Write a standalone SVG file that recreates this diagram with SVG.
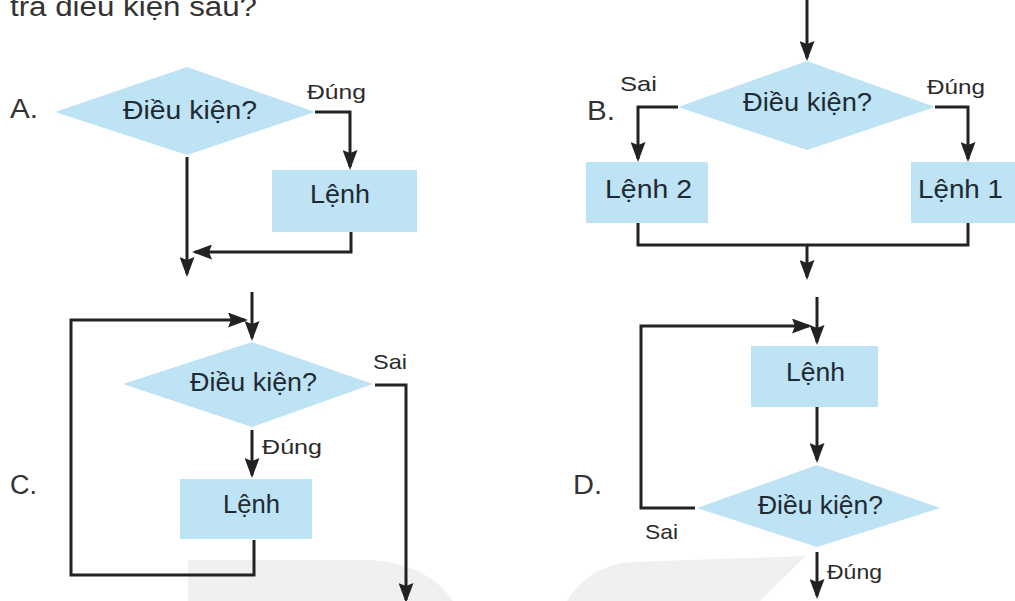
<svg xmlns="http://www.w3.org/2000/svg" width="1015" height="601" viewBox="0 0 1015 601">
  <style>
    .bg { fill: #ffffff; }
    .shade { fill: #f0f0f0; }
    .dec { fill: #bde3f5; }
    .box { fill: #bde3f5; }
    .t { font-family: "Liberation Sans", Arial, sans-serif; fill: #1f2a33; }
    .node { font-size: 26px; text-anchor: start; }
    .lbl { font-size: 21px; fill: #2b2b2b; }
    .panel { font-size: 27px; fill: #333333; }
    .title { font-size: 27px; fill: #333333; }
    .wire { fill: none; stroke: #222222; stroke-width: 3; }
    .arr { marker-end: url(#head); }
  </style>
  <defs>
    <marker id="head" markerUnits="userSpaceOnUse" viewBox="0 0 20 15" markerWidth="20" markerHeight="15" refX="17" refY="7.5" orient="auto">
      <path d="M0,0 L20,7.5 L0,15 L3,7.5 Z" fill="#222222"/>
    </marker>
  </defs>

  <rect class="bg" x="0" y="0" width="1015" height="601"/>

  <!-- faint background shapes along the bottom edge -->
  <g id="backdrop">
    <path class="shade" d="M188,560 L372,560 Q428,564 453,601 L188,601 Z"/>
    <path class="shade" d="M567,601 Q588,566 630,562 L806,556 L760,601 Z"/>
  </g>

  <!-- question line, clipped at the top -->
  <text class="t title" x="10" y="16" textLength="247" lengthAdjust="spacingAndGlyphs">tra điều kiện sau?</text>

  <!-- option letters -->
  <g id="panels">
    <text class="t panel" x="10" y="118" textLength="28" lengthAdjust="spacingAndGlyphs">A.</text>
    <text class="t panel" x="587" y="120" textLength="28" lengthAdjust="spacingAndGlyphs">B.</text>
    <text class="t panel" x="10" y="494" textLength="27" lengthAdjust="spacingAndGlyphs">C.</text>
    <text class="t panel" x="573" y="494" textLength="29" lengthAdjust="spacingAndGlyphs">D.</text>
  </g>

  <!-- A: single-branch if -->
  <g id="a-cond">
    <polygon class="dec" points="55,112 187,67 315,112 187,155"/>
    <text class="t node" x="123" y="119" textLength="134" lengthAdjust="spacingAndGlyphs">Điều kiện?</text>
  </g>
  <g id="a-stmt">
    <rect class="box" x="272" y="170" width="145" height="62"/>
    <text class="t node" x="310" y="203" font-size="25" textLength="60" lengthAdjust="spacingAndGlyphs">Lệnh</text>
  </g>

  <!-- B: two-branch if -->
  <g id="b-cond">
    <polygon class="dec" points="678,107 807,61 935,107 807,150"/>
    <text class="t node" x="743" y="111" textLength="129" lengthAdjust="spacingAndGlyphs">Điều kiện?</text>
  </g>
  <g id="b-stmt2">
    <rect class="box" x="586" y="162" width="122" height="61"/>
    <text class="t node" x="605" y="198" font-size="25" textLength="87" lengthAdjust="spacingAndGlyphs">Lệnh 2</text>
  </g>
  <g id="b-stmt1">
    <rect class="box" x="911" y="162" width="110" height="61"/>
    <text class="t node" x="918" y="198" font-size="25" textLength="85" lengthAdjust="spacingAndGlyphs">Lệnh 1</text>
  </g>

  <!-- C: pre-test loop -->
  <g id="c-cond">
    <polygon class="dec" points="123,384 252,342 373,384 252,427"/>
    <text class="t node" x="190" y="391" textLength="127" lengthAdjust="spacingAndGlyphs">Điều kiện?</text>
  </g>
  <g id="c-stmt">
    <rect class="box" x="180" y="479" width="132" height="60"/>
    <text class="t node" x="223" y="513" font-size="25" textLength="57" lengthAdjust="spacingAndGlyphs">Lệnh</text>
  </g>

  <!-- D: post-test loop -->
  <g id="d-stmt">
    <rect class="box" x="751" y="346" width="127" height="61"/>
    <text class="t node" x="786" y="381" font-size="25" textLength="59" lengthAdjust="spacingAndGlyphs">Lệnh</text>
  </g>
  <g id="d-cond">
    <polygon class="dec" points="697,508 817,465 940,508 817,547"/>
    <text class="t node" x="758" y="514" textLength="125" lengthAdjust="spacingAndGlyphs">Điều kiện?</text>
  </g>

  <!-- flow lines -->
  <g id="connectors">
    <!-- A -->
    <path class="wire arr" d="M315,112 H350 V167"/>
    <path class="wire arr" d="M187,157 V274"/>
    <path class="wire arr" d="M351,232 V252 H195"/>
    <!-- B -->
    <path class="wire arr" d="M807,0 V58"/>
    <path class="wire arr" d="M678,107 H638 V159"/>
    <path class="wire arr" d="M935,107 H968 V159"/>
    <path class="wire" d="M638,223 V245 H968 V223"/>
    <path class="wire arr" d="M807,245 V277"/>
    <!-- C -->
    <path class="wire arr" d="M252,292 V338"/>
    <path class="wire arr" d="M254,540 V575 H71 V320 H245"/>
    <path class="wire arr" d="M252,430 V475"/>
    <path class="wire arr" d="M375,385 H406 V600"/>
    <!-- D -->
    <path class="wire arr" d="M817,297 V342"/>
    <path class="wire arr" d="M695,508 H641 V326 H809"/>
    <path class="wire arr" d="M817,407 V460"/>
    <path class="wire arr" d="M817,552 V596"/>
  </g>

  <!-- branch labels -->
  <g id="labels">
    <text class="t lbl" x="307" y="99" textLength="59" lengthAdjust="spacingAndGlyphs">Đúng</text>
    <text class="t lbl" x="620" y="91" textLength="37" lengthAdjust="spacingAndGlyphs">Sai</text>
    <text class="t lbl" x="927" y="94" textLength="58" lengthAdjust="spacingAndGlyphs">Đúng</text>
    <text class="t lbl" x="373" y="369" textLength="34" lengthAdjust="spacingAndGlyphs">Sai</text>
    <text class="t lbl" x="262" y="454" textLength="60" lengthAdjust="spacingAndGlyphs">Đúng</text>
    <text class="t lbl" x="645" y="539" textLength="33" lengthAdjust="spacingAndGlyphs">Sai</text>
    <text class="t lbl" x="827" y="579" font-size="19" textLength="55" lengthAdjust="spacingAndGlyphs">Đúng</text>
  </g>
</svg>
